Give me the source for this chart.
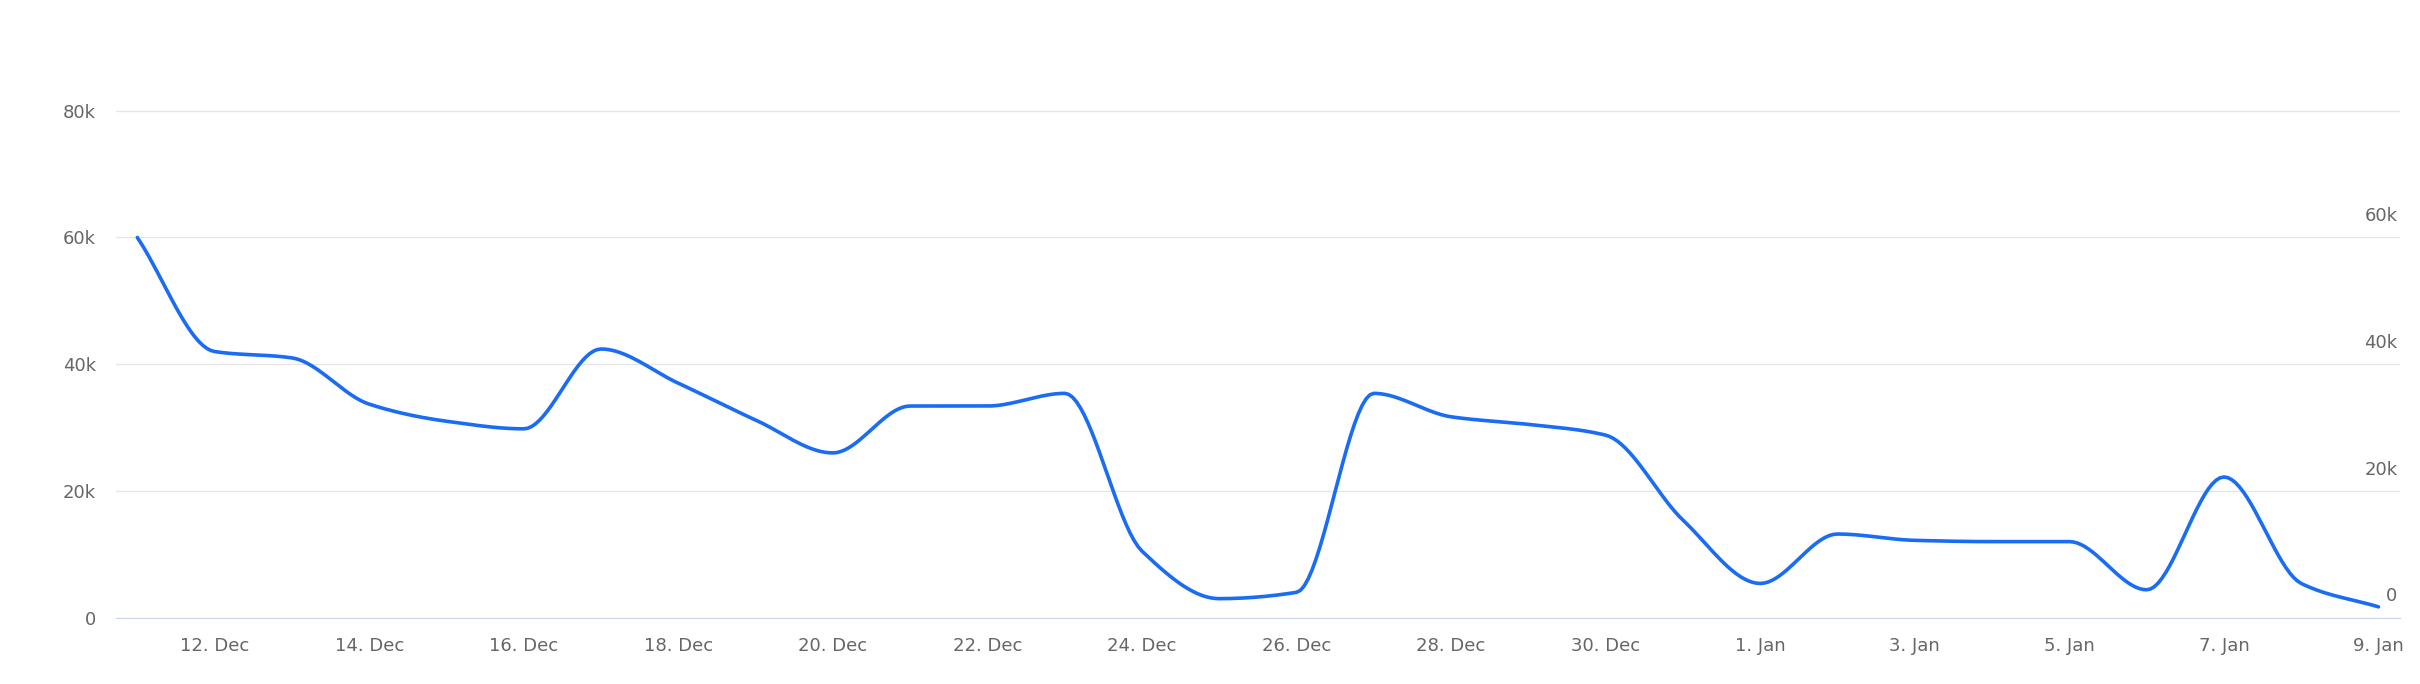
import numpy as np, pandas as pd, matplotlib
matplotlib.use("Agg")
import matplotlib.pyplot as plt, seaborn as sns

dates = pd.date_range("2023-12-11", "2024-01-09", freq="D")
values = [60000, 42000, 41000, 33700, 31000, 29800, 42400, 37000, 31200, 26000,
          33400, 33400, 35400, 10500, 3000, 4000, 35400, 31700, 30500, 28800,
          15400, 5400, 13200, 12200, 12000, 12000, 4400, 22200, 5400, 1700]
tick_dates = pd.date_range("2023-12-12", "2024-01-09", freq="2D")
tick_labels = [f"{d.day}. {d.strftime('%b')}" for d in tick_dates]

def pchip(x, y, n=20):
    x = np.asarray(x, float); y = np.asarray(y, float)
    h = np.diff(x); d = np.diff(y) / h
    m = np.zeros_like(y)
    for i in range(1, len(y) - 1):
        if d[i-1] * d[i] > 0:
            w1 = 2*h[i] + h[i-1]; w2 = h[i] + 2*h[i-1]
            m[i] = (w1 + w2) / (w1/d[i-1] + w2/d[i])
    m[0] = d[0]; m[-1] = d[-1]
    xs, ys = [], []
    for i in range(len(h)):
        t = np.linspace(0, 1, n, endpoint=False)
        h00 = 2*t**3 - 3*t**2 + 1; h10 = t**3 - 2*t**2 + t
        h01 = -2*t**3 + 3*t**2; h11 = t**3 - t**2
        xs.append(x[i] + t*h[i])
        ys.append(h00*y[i] + h10*h[i]*m[i] + h01*y[i+1] + h11*h[i]*m[i+1])
    xs.append([x[-1]]); ys.append([y[-1]])
    return np.concatenate(xs), np.concatenate(ys)

x0 = dates[0]
xd = (dates - x0).days.values
sx, sy = pchip(xd, values)
df = pd.DataFrame({"date": x0 + pd.to_timedelta(sx, unit="D"), "value": sy})

sns.set_style("white")
fig = plt.figure(figsize=(24.2, 6.84), dpi=100)
ax = fig.add_axes([0.0478, 0.097, 0.944, 0.88])
sns.lineplot(data=df, x="date", y="value", ax=ax, color="#1a6cf5", linewidth=2.6)
ax.set_ylim(0, 95000)
ax.set_yticks([0, 20000, 40000, 60000, 80000])
ax.set_yticklabels(["0", "20k", "40k", "60k", "80k"])
ax.yaxis.grid(True, color="#e6e6e6", linewidth=1)
ax.set_xlim(x0 - pd.Timedelta(days=0.28), dates[-1] + pd.Timedelta(days=0.28))
ax.set_xticks(tick_dates); ax.set_xticklabels(tick_labels)
ax.set_xlabel(""); ax.set_ylabel("")
for s in ["top", "right", "left"]:
    ax.spines[s].set_visible(False)
ax.spines["bottom"].set_color("#ccd6eb")
ax.tick_params(axis="both", length=0, labelsize=13, labelcolor="#666666", pad=14)
ax2 = ax.twinx()
ax2.set_ylim(-1950, 95000 - 1950)
ax2.set_yticks([0, 20000, 40000, 60000])
ax2.set_yticklabels(["0", "20k", "40k", "60k"])
for s in ax2.spines.values():
    s.set_visible(False)
ax2.tick_params(axis="y", length=0, labelsize=13, labelcolor="#666666", pad=-2)
for lbl in ax2.get_yticklabels():
    lbl.set_va("bottom"); lbl.set_ha("right")
fig.savefig("out.png", dpi=100)
